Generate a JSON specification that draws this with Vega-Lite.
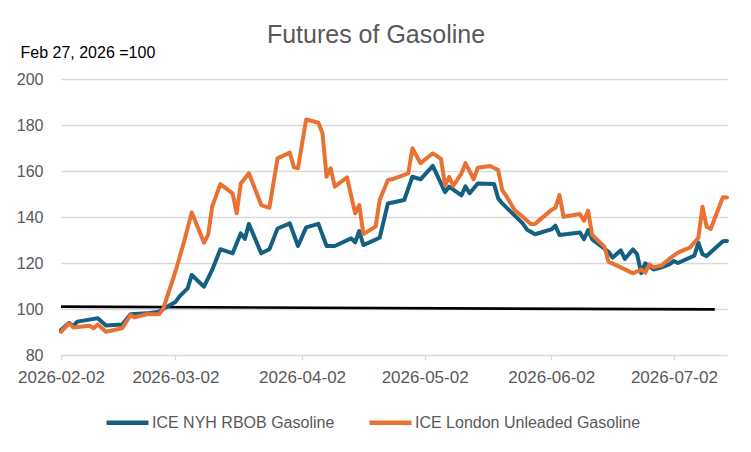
{
  "$schema": "https://vega.github.io/schema/vega-lite/v6.json",
  "width": 666,
  "height": 276,
  "autosize": {"type": "none"},
  "padding": {"left": 61, "top": 79, "right": 24, "bottom": 97},
  "background": "white",
  "title": {
    "text": "Futures of Gasoline",
    "anchor": "middle",
    "frame": "group",
    "dx": -18,
    "dy": 4,
    "offset": 0,
    "fontSize": 25,
    "font": "Liberation Sans",
    "fontWeight": "normal",
    "color": "#595959"
  },
  "datasets": {
    "futures": [
      {"date": "2026-02-02", "series": "ICE NYH RBOB Gasoline", "value": 90.9},
      {"date": "2026-02-04", "series": "ICE NYH RBOB Gasoline", "value": 94.0},
      {"date": "2026-02-05", "series": "ICE NYH RBOB Gasoline", "value": 92.6},
      {"date": "2026-02-06", "series": "ICE NYH RBOB Gasoline", "value": 94.5},
      {"date": "2026-02-10", "series": "ICE NYH RBOB Gasoline", "value": 95.7},
      {"date": "2026-02-11", "series": "ICE NYH RBOB Gasoline", "value": 96.0},
      {"date": "2026-02-13", "series": "ICE NYH RBOB Gasoline", "value": 92.8},
      {"date": "2026-02-17", "series": "ICE NYH RBOB Gasoline", "value": 93.3},
      {"date": "2026-02-19", "series": "ICE NYH RBOB Gasoline", "value": 97.7},
      {"date": "2026-02-23", "series": "ICE NYH RBOB Gasoline", "value": 98.1},
      {"date": "2026-02-26", "series": "ICE NYH RBOB Gasoline", "value": 98.8},
      {"date": "2026-02-27", "series": "ICE NYH RBOB Gasoline", "value": 100.0},
      {"date": "2026-03-02", "series": "ICE NYH RBOB Gasoline", "value": 103.0},
      {"date": "2026-03-03", "series": "ICE NYH RBOB Gasoline", "value": 105.5},
      {"date": "2026-03-05", "series": "ICE NYH RBOB Gasoline", "value": 109.0},
      {"date": "2026-03-06", "series": "ICE NYH RBOB Gasoline", "value": 114.8},
      {"date": "2026-03-09", "series": "ICE NYH RBOB Gasoline", "value": 109.7},
      {"date": "2026-03-11", "series": "ICE NYH RBOB Gasoline", "value": 117.0},
      {"date": "2026-03-13", "series": "ICE NYH RBOB Gasoline", "value": 126.0},
      {"date": "2026-03-16", "series": "ICE NYH RBOB Gasoline", "value": 124.2},
      {"date": "2026-03-18", "series": "ICE NYH RBOB Gasoline", "value": 132.9},
      {"date": "2026-03-19", "series": "ICE NYH RBOB Gasoline", "value": 130.5},
      {"date": "2026-03-20", "series": "ICE NYH RBOB Gasoline", "value": 137.0},
      {"date": "2026-03-23", "series": "ICE NYH RBOB Gasoline", "value": 124.2},
      {"date": "2026-03-25", "series": "ICE NYH RBOB Gasoline", "value": 126.0},
      {"date": "2026-03-27", "series": "ICE NYH RBOB Gasoline", "value": 135.0},
      {"date": "2026-03-30", "series": "ICE NYH RBOB Gasoline", "value": 137.2},
      {"date": "2026-04-01", "series": "ICE NYH RBOB Gasoline", "value": 127.4},
      {"date": "2026-04-03", "series": "ICE NYH RBOB Gasoline", "value": 135.5},
      {"date": "2026-04-06", "series": "ICE NYH RBOB Gasoline", "value": 137.0},
      {"date": "2026-04-08", "series": "ICE NYH RBOB Gasoline", "value": 127.4},
      {"date": "2026-04-10", "series": "ICE NYH RBOB Gasoline", "value": 127.4},
      {"date": "2026-04-14", "series": "ICE NYH RBOB Gasoline", "value": 130.7},
      {"date": "2026-04-15", "series": "ICE NYH RBOB Gasoline", "value": 129.0},
      {"date": "2026-04-16", "series": "ICE NYH RBOB Gasoline", "value": 133.9},
      {"date": "2026-04-17", "series": "ICE NYH RBOB Gasoline", "value": 127.8},
      {"date": "2026-04-21", "series": "ICE NYH RBOB Gasoline", "value": 131.0},
      {"date": "2026-04-23", "series": "ICE NYH RBOB Gasoline", "value": 145.9},
      {"date": "2026-04-27", "series": "ICE NYH RBOB Gasoline", "value": 147.4},
      {"date": "2026-04-29", "series": "ICE NYH RBOB Gasoline", "value": 157.5},
      {"date": "2026-05-01", "series": "ICE NYH RBOB Gasoline", "value": 156.4},
      {"date": "2026-05-04", "series": "ICE NYH RBOB Gasoline", "value": 162.2},
      {"date": "2026-05-07", "series": "ICE NYH RBOB Gasoline", "value": 150.8},
      {"date": "2026-05-08", "series": "ICE NYH RBOB Gasoline", "value": 153.2},
      {"date": "2026-05-11", "series": "ICE NYH RBOB Gasoline", "value": 149.4},
      {"date": "2026-05-12", "series": "ICE NYH RBOB Gasoline", "value": 153.3},
      {"date": "2026-05-13", "series": "ICE NYH RBOB Gasoline", "value": 150.3},
      {"date": "2026-05-15", "series": "ICE NYH RBOB Gasoline", "value": 154.6},
      {"date": "2026-05-19", "series": "ICE NYH RBOB Gasoline", "value": 154.3},
      {"date": "2026-05-20", "series": "ICE NYH RBOB Gasoline", "value": 148.1},
      {"date": "2026-05-21", "series": "ICE NYH RBOB Gasoline", "value": 145.9},
      {"date": "2026-05-26", "series": "ICE NYH RBOB Gasoline", "value": 137.2},
      {"date": "2026-05-27", "series": "ICE NYH RBOB Gasoline", "value": 134.6},
      {"date": "2026-05-29", "series": "ICE NYH RBOB Gasoline", "value": 132.5},
      {"date": "2026-06-02", "series": "ICE NYH RBOB Gasoline", "value": 134.6},
      {"date": "2026-06-03", "series": "ICE NYH RBOB Gasoline", "value": 136.2},
      {"date": "2026-06-04", "series": "ICE NYH RBOB Gasoline", "value": 132.2},
      {"date": "2026-06-09", "series": "ICE NYH RBOB Gasoline", "value": 133.3},
      {"date": "2026-06-10", "series": "ICE NYH RBOB Gasoline", "value": 130.3},
      {"date": "2026-06-11", "series": "ICE NYH RBOB Gasoline", "value": 134.3},
      {"date": "2026-06-12", "series": "ICE NYH RBOB Gasoline", "value": 130.3},
      {"date": "2026-06-16", "series": "ICE NYH RBOB Gasoline", "value": 124.9},
      {"date": "2026-06-17", "series": "ICE NYH RBOB Gasoline", "value": 122.3},
      {"date": "2026-06-19", "series": "ICE NYH RBOB Gasoline", "value": 125.5},
      {"date": "2026-06-20", "series": "ICE NYH RBOB Gasoline", "value": 121.8},
      {"date": "2026-06-22", "series": "ICE NYH RBOB Gasoline", "value": 125.9},
      {"date": "2026-06-23", "series": "ICE NYH RBOB Gasoline", "value": 123.8},
      {"date": "2026-06-24", "series": "ICE NYH RBOB Gasoline", "value": 115.6},
      {"date": "2026-06-25", "series": "ICE NYH RBOB Gasoline", "value": 119.9},
      {"date": "2026-06-27", "series": "ICE NYH RBOB Gasoline", "value": 117.2},
      {"date": "2026-06-29", "series": "ICE NYH RBOB Gasoline", "value": 118.1},
      {"date": "2026-07-01", "series": "ICE NYH RBOB Gasoline", "value": 119.5},
      {"date": "2026-07-02", "series": "ICE NYH RBOB Gasoline", "value": 120.9},
      {"date": "2026-07-03", "series": "ICE NYH RBOB Gasoline", "value": 120.0},
      {"date": "2026-07-07", "series": "ICE NYH RBOB Gasoline", "value": 123.2},
      {"date": "2026-07-08", "series": "ICE NYH RBOB Gasoline", "value": 128.8},
      {"date": "2026-07-09", "series": "ICE NYH RBOB Gasoline", "value": 123.8},
      {"date": "2026-07-10", "series": "ICE NYH RBOB Gasoline", "value": 123.0},
      {"date": "2026-07-14", "series": "ICE NYH RBOB Gasoline", "value": 129.5},
      {"date": "2026-07-15", "series": "ICE NYH RBOB Gasoline", "value": 129.6},

      {"date": "2026-02-02", "series": "ICE London Unleaded Gasoline", "value": 90.1},
      {"date": "2026-02-04", "series": "ICE London Unleaded Gasoline", "value": 93.8},
      {"date": "2026-02-05", "series": "ICE London Unleaded Gasoline", "value": 92.0},
      {"date": "2026-02-09", "series": "ICE London Unleaded Gasoline", "value": 92.7},
      {"date": "2026-02-10", "series": "ICE London Unleaded Gasoline", "value": 91.6},
      {"date": "2026-02-11", "series": "ICE London Unleaded Gasoline", "value": 93.3},
      {"date": "2026-02-13", "series": "ICE London Unleaded Gasoline", "value": 90.1},
      {"date": "2026-02-17", "series": "ICE London Unleaded Gasoline", "value": 91.6},
      {"date": "2026-02-19", "series": "ICE London Unleaded Gasoline", "value": 97.4},
      {"date": "2026-02-20", "series": "ICE London Unleaded Gasoline", "value": 96.4},
      {"date": "2026-02-23", "series": "ICE London Unleaded Gasoline", "value": 97.7},
      {"date": "2026-02-26", "series": "ICE London Unleaded Gasoline", "value": 97.7},
      {"date": "2026-02-27", "series": "ICE London Unleaded Gasoline", "value": 100.0},
      {"date": "2026-03-02", "series": "ICE London Unleaded Gasoline", "value": 116.2},
      {"date": "2026-03-04", "series": "ICE London Unleaded Gasoline", "value": 128.5},
      {"date": "2026-03-06", "series": "ICE London Unleaded Gasoline", "value": 142.0},
      {"date": "2026-03-09", "series": "ICE London Unleaded Gasoline", "value": 128.8},
      {"date": "2026-03-10", "series": "ICE London Unleaded Gasoline", "value": 132.2},
      {"date": "2026-03-11", "series": "ICE London Unleaded Gasoline", "value": 144.5},
      {"date": "2026-03-13", "series": "ICE London Unleaded Gasoline", "value": 154.3},
      {"date": "2026-03-16", "series": "ICE London Unleaded Gasoline", "value": 150.3},
      {"date": "2026-03-17", "series": "ICE London Unleaded Gasoline", "value": 141.6},
      {"date": "2026-03-18", "series": "ICE London Unleaded Gasoline", "value": 154.6},
      {"date": "2026-03-20", "series": "ICE London Unleaded Gasoline", "value": 159.0},
      {"date": "2026-03-23", "series": "ICE London Unleaded Gasoline", "value": 145.2},
      {"date": "2026-03-25", "series": "ICE London Unleaded Gasoline", "value": 144.0},
      {"date": "2026-03-27", "series": "ICE London Unleaded Gasoline", "value": 165.5},
      {"date": "2026-03-30", "series": "ICE London Unleaded Gasoline", "value": 168.0},
      {"date": "2026-03-31", "series": "ICE London Unleaded Gasoline", "value": 161.6},
      {"date": "2026-04-01", "series": "ICE London Unleaded Gasoline", "value": 161.2},
      {"date": "2026-04-03", "series": "ICE London Unleaded Gasoline", "value": 182.4},
      {"date": "2026-04-06", "series": "ICE London Unleaded Gasoline", "value": 181.0},
      {"date": "2026-04-07", "series": "ICE London Unleaded Gasoline", "value": 176.4},
      {"date": "2026-04-08", "series": "ICE London Unleaded Gasoline", "value": 157.5},
      {"date": "2026-04-09", "series": "ICE London Unleaded Gasoline", "value": 161.2},
      {"date": "2026-04-10", "series": "ICE London Unleaded Gasoline", "value": 153.2},
      {"date": "2026-04-13", "series": "ICE London Unleaded Gasoline", "value": 157.2},
      {"date": "2026-04-15", "series": "ICE London Unleaded Gasoline", "value": 141.6},
      {"date": "2026-04-16", "series": "ICE London Unleaded Gasoline", "value": 145.2},
      {"date": "2026-04-17", "series": "ICE London Unleaded Gasoline", "value": 132.6},
      {"date": "2026-04-20", "series": "ICE London Unleaded Gasoline", "value": 135.8},
      {"date": "2026-04-21", "series": "ICE London Unleaded Gasoline", "value": 147.4},
      {"date": "2026-04-23", "series": "ICE London Unleaded Gasoline", "value": 156.1},
      {"date": "2026-04-24", "series": "ICE London Unleaded Gasoline", "value": 156.4},
      {"date": "2026-04-28", "series": "ICE London Unleaded Gasoline", "value": 159.0},
      {"date": "2026-04-29", "series": "ICE London Unleaded Gasoline", "value": 169.9},
      {"date": "2026-05-01", "series": "ICE London Unleaded Gasoline", "value": 163.4},
      {"date": "2026-05-04", "series": "ICE London Unleaded Gasoline", "value": 167.7},
      {"date": "2026-05-06", "series": "ICE London Unleaded Gasoline", "value": 165.3},
      {"date": "2026-05-07", "series": "ICE London Unleaded Gasoline", "value": 153.7},
      {"date": "2026-05-08", "series": "ICE London Unleaded Gasoline", "value": 157.5},
      {"date": "2026-05-09", "series": "ICE London Unleaded Gasoline", "value": 153.5},
      {"date": "2026-05-11", "series": "ICE London Unleaded Gasoline", "value": 159.0},
      {"date": "2026-05-12", "series": "ICE London Unleaded Gasoline", "value": 163.4},
      {"date": "2026-05-14", "series": "ICE London Unleaded Gasoline", "value": 156.4},
      {"date": "2026-05-15", "series": "ICE London Unleaded Gasoline", "value": 161.4},
      {"date": "2026-05-18", "series": "ICE London Unleaded Gasoline", "value": 162.2},
      {"date": "2026-05-20", "series": "ICE London Unleaded Gasoline", "value": 160.4},
      {"date": "2026-05-21", "series": "ICE London Unleaded Gasoline", "value": 151.7},
      {"date": "2026-05-22", "series": "ICE London Unleaded Gasoline", "value": 149.1},
      {"date": "2026-05-24", "series": "ICE London Unleaded Gasoline", "value": 143.0},
      {"date": "2026-05-26", "series": "ICE London Unleaded Gasoline", "value": 140.1},
      {"date": "2026-05-28", "series": "ICE London Unleaded Gasoline", "value": 137.0},
      {"date": "2026-05-29", "series": "ICE London Unleaded Gasoline", "value": 137.0},
      {"date": "2026-06-02", "series": "ICE London Unleaded Gasoline", "value": 143.0},
      {"date": "2026-06-03", "series": "ICE London Unleaded Gasoline", "value": 144.0},
      {"date": "2026-06-04", "series": "ICE London Unleaded Gasoline", "value": 149.5},
      {"date": "2026-06-05", "series": "ICE London Unleaded Gasoline", "value": 140.1},
      {"date": "2026-06-09", "series": "ICE London Unleaded Gasoline", "value": 141.3},
      {"date": "2026-06-10", "series": "ICE London Unleaded Gasoline", "value": 138.4},
      {"date": "2026-06-11", "series": "ICE London Unleaded Gasoline", "value": 142.7},
      {"date": "2026-06-12", "series": "ICE London Unleaded Gasoline", "value": 132.2},
      {"date": "2026-06-15", "series": "ICE London Unleaded Gasoline", "value": 127.1},
      {"date": "2026-06-16", "series": "ICE London Unleaded Gasoline", "value": 120.6},
      {"date": "2026-06-19", "series": "ICE London Unleaded Gasoline", "value": 118.1},
      {"date": "2026-06-22", "series": "ICE London Unleaded Gasoline", "value": 115.5},
      {"date": "2026-06-24", "series": "ICE London Unleaded Gasoline", "value": 117.2},
      {"date": "2026-06-25", "series": "ICE London Unleaded Gasoline", "value": 115.8},
      {"date": "2026-06-26", "series": "ICE London Unleaded Gasoline", "value": 119.4},
      {"date": "2026-06-27", "series": "ICE London Unleaded Gasoline", "value": 118.1},
      {"date": "2026-06-29", "series": "ICE London Unleaded Gasoline", "value": 118.9},
      {"date": "2026-07-01", "series": "ICE London Unleaded Gasoline", "value": 122.0},
      {"date": "2026-07-03", "series": "ICE London Unleaded Gasoline", "value": 124.5},
      {"date": "2026-07-06", "series": "ICE London Unleaded Gasoline", "value": 126.8},
      {"date": "2026-07-08", "series": "ICE London Unleaded Gasoline", "value": 131.0},
      {"date": "2026-07-09", "series": "ICE London Unleaded Gasoline", "value": 144.5},
      {"date": "2026-07-10", "series": "ICE London Unleaded Gasoline", "value": 135.8},
      {"date": "2026-07-11", "series": "ICE London Unleaded Gasoline", "value": 134.8},
      {"date": "2026-07-14", "series": "ICE London Unleaded Gasoline", "value": 148.6},
      {"date": "2026-07-15", "series": "ICE London Unleaded Gasoline", "value": 148.5}
    ],
    "baseline": [
      {"date": "2026-02-02", "value": 101.0},
      {"date": "2026-07-12", "value": 99.8}
    ]
  },
  "layer": [
    {
      "data": {"name": "baseline"},
      "mark": {"type": "line", "color": "#000000", "strokeWidth": 2.7, "strokeCap": "butt"},
      "encoding": {
        "x": {"field": "date", "type": "temporal"},
        "y": {"field": "value", "type": "quantitative"}
      }
    },
    {
      "data": {"name": "futures"},
      "mark": {"type": "line", "strokeWidth": 4, "strokeCap": "round", "strokeJoin": "round"},
      "encoding": {
        "x": {
          "field": "date",
          "type": "temporal",
          "scale": {
            "type": "utc",
            "domain": [
              {"year": 2026, "month": 2, "date": 2, "utc": true},
              {"year": 2026, "month": 7, "date": 15, "utc": true}
            ]
          },
          "axis": {
            "title": null,
            "format": "%Y-%m-%d",
            "values": [
              {"year": 2026, "month": 2, "date": 2, "utc": true},
              {"year": 2026, "month": 3, "date": 2, "utc": true},
              {"year": 2026, "month": 4, "date": 2, "utc": true},
              {"year": 2026, "month": 5, "date": 2, "utc": true},
              {"year": 2026, "month": 6, "date": 2, "utc": true},
              {"year": 2026, "month": 7, "date": 2, "utc": true}
            ],
            "grid": false,
            "domain": false,
            "ticks": true,
            "tickSize": 5,
            "tickColor": "#d9d9d9",
            "tickWidth": 1.3,
            "labelFontSize": 17,
            "labelColor": "#595959",
            "labelPadding": 9,
            "labelFlush": false,
            "labelOverlap": false
          }
        },
        "y": {
          "field": "value",
          "type": "quantitative",
          "scale": {"domain": [80, 200], "nice": false, "zero": false},
          "axis": {
            "title": "Feb 27, 2026 =100",
            "titleAngle": 0,
            "titleAlign": "left",
            "titleBaseline": "middle",
            "titleX": -41,
            "titleY": -27,
            "titleFontSize": 16,
            "titleFontWeight": "normal",
            "titleColor": "#000000",
            "values": [80, 100, 120, 140, 160, 180, 200],
            "grid": true,
            "gridColor": "#d9d9d9",
            "gridWidth": 1.3,
            "domain": false,
            "ticks": false,
            "labelFontSize": 16,
            "labelColor": "#595959",
            "labelPadding": 18
          }
        },
        "color": {
          "field": "series",
          "type": "nominal",
          "sort": ["ICE NYH RBOB Gasoline", "ICE London Unleaded Gasoline"],
          "scale": {
            "domain": ["ICE NYH RBOB Gasoline", "ICE London Unleaded Gasoline"],
            "range": ["#156082", "#E97132"]
          },
          "legend": {
            "title": null,
            "orient": "none",
            "direction": "horizontal",
            "legendX": 43,
            "legendY": 320,
            "padding": 0,
            "symbolType": "stroke",
            "symbolSize": 1764,
            "symbolStrokeWidth": 4.5,
            "labelFontSize": 16,
            "labelColor": "#595959",
            "labelOffset": 1,
            "columnPadding": 25,
            "labelLimit": 400
          }
        }
      }
    }
  ],
  "config": {
    "font": "Liberation Sans",
    "view": {"stroke": null}
  }
}
